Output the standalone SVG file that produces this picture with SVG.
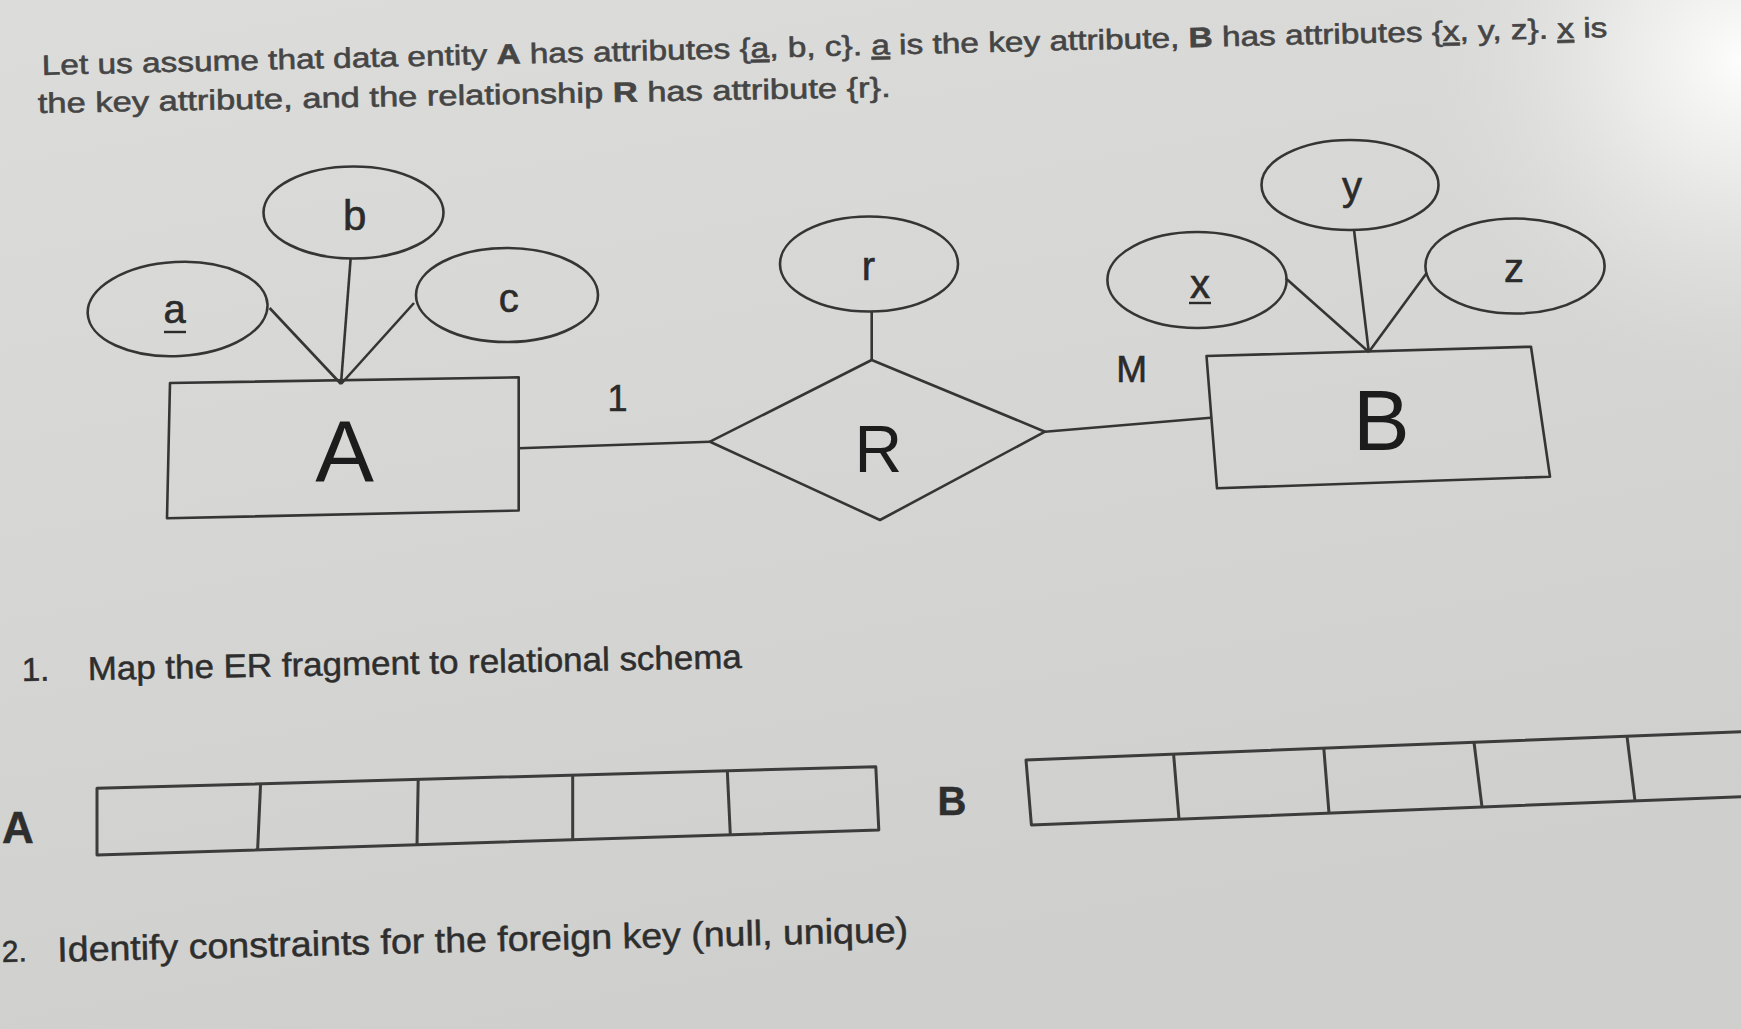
<svg xmlns="http://www.w3.org/2000/svg" width="1741" height="1029" viewBox="0 0 1741 1029">
  <defs>
    <linearGradient id="paper" x1="0" y1="0" x2="0.3" y2="1">
      <stop offset="0" stop-color="#dcdcda"/>
      <stop offset="0.5" stop-color="#d6d6d4"/>
      <stop offset="1" stop-color="#cfcfcd"/>
    </linearGradient>
    <radialGradient id="glow" cx="1741" cy="60" r="320" gradientUnits="userSpaceOnUse">
      <stop offset="0" stop-color="#ffffff" stop-opacity="0.95"/>
      <stop offset="0.35" stop-color="#f4f4f3" stop-opacity="0.7"/>
      <stop offset="1" stop-color="#e0e0de" stop-opacity="0"/>
    </radialGradient>
    <style>
      .ln { stroke:#353535; stroke-width:2.6; fill:none; stroke-linejoin:round; }
      .tb { stroke:#3c3c3c; stroke-width:3; fill:none; stroke-linejoin:round; }
      .lbl { font-family:"Liberation Sans", Arial, sans-serif; fill:#2b2b2b; stroke:#2b2b2b; stroke-width:0.6; text-anchor:middle; }
      .big { font-family:"Liberation Sans", Arial, sans-serif; fill:#1c1c1c; text-anchor:middle; }
      .hdr { font-family:"Liberation Sans", Arial, sans-serif; fill:#454545; stroke:#454545; stroke-width:0.6; font-size:28px; }
      .q { font-family:"Liberation Sans", Arial, sans-serif; fill:#2e2e2e; stroke:#2e2e2e; stroke-width:0.5; }
      .ul { stroke:#2b2b2b; stroke-width:2.4; }
    </style>
  </defs>

  <rect width="1741" height="1029" fill="url(#paper)"/>
  <rect width="1741" height="1029" fill="url(#glow)"/>

  <!-- header text -->
  <g id="header">
    <text class="hdr" x="42" y="75" transform="rotate(-1.39 42 75)" textLength="1566" lengthAdjust="spacingAndGlyphs">Let us assume that data entity <tspan font-weight="bold">A</tspan> has attributes {<tspan text-decoration="underline">a</tspan>, b, c}. <tspan text-decoration="underline">a</tspan> is the key attribute, <tspan font-weight="bold">B</tspan> has attributes {<tspan text-decoration="underline">x</tspan>, y, z}. <tspan text-decoration="underline">x</tspan> is</text>
    <text class="hdr" x="38" y="113" transform="rotate(-1.09 38 113)" textLength="853" lengthAdjust="spacingAndGlyphs">the key attribute, and the relationship <tspan font-weight="bold">R</tspan> has attribute {r}.</text>
  </g>

  <!-- connectors -->
  <g id="connectors">
    <line class="ln" x1="269.6" y1="308" x2="341" y2="384"/>
    <line class="ln" x1="350.6" y1="259" x2="341" y2="384"/>
    <line class="ln" x1="414" y1="303" x2="341" y2="384"/>
    <line class="ln" x1="871.7" y1="311.7" x2="871.7" y2="360"/>
    <line class="ln" x1="518.7" y1="448.3" x2="710" y2="441.7"/>
    <line class="ln" x1="1045" y1="431.7" x2="1210.7" y2="417.7"/>
    <line class="ln" x1="1285.7" y1="278.3" x2="1368.8" y2="352"/>
    <line class="ln" x1="1354" y1="230" x2="1368.8" y2="352"/>
    <line class="ln" x1="1426.5" y1="273.3" x2="1368.8" y2="352"/>
    <text class="lbl" x="617.5" y="411" font-size="36">1</text>
    <text class="lbl" x="1131.6" y="381.7" font-size="37">M</text>
  </g>

  <!-- entity A -->
  <g id="entity-A">
    <polygon class="ln" points="170,383 518.7,377.3 518.7,510.5 167,518.3"/>
    <text class="big" x="344.7" y="481.7" font-size="88">A</text>
  </g>
  <g id="attr-a">
    <ellipse class="ln" cx="177.6" cy="309" rx="90" ry="47" transform="rotate(-3 177.6 309)"/>
    <text class="lbl" x="174.7" y="323.3" font-size="40">a</text>
    <line class="ul" x1="164" y1="332" x2="186" y2="332"/>
  </g>
  <g id="attr-b">
    <ellipse class="ln" cx="353.5" cy="212.5" rx="90" ry="46"/>
    <text class="lbl" x="354.6" y="230" font-size="42">b</text>
  </g>
  <g id="attr-c">
    <ellipse class="ln" cx="507" cy="295" rx="91" ry="47"/>
    <text class="lbl" x="508.8" y="311.7" font-size="40">c</text>
  </g>

  <!-- relationship R -->
  <g id="rel-R">
    <polygon class="ln" points="871.7,360 1045,431.7 880,520 710,441.7"/>
    <text class="big" x="878.3" y="471.7" font-size="66">R</text>
  </g>
  <g id="attr-r">
    <ellipse class="ln" cx="869" cy="264" rx="89" ry="47.5"/>
    <text class="lbl" x="868.3" y="280" font-size="40">r</text>
  </g>

  <!-- entity B -->
  <g id="entity-B">
    <polygon class="ln" points="1206.5,356 1531,346.7 1550,476.7 1217,488.3"/>
    <text class="big" x="1381.4" y="450" font-size="85">B</text>
  </g>
  <g id="attr-x">
    <ellipse class="ln" cx="1197" cy="280" rx="89.6" ry="48"/>
    <text class="lbl" x="1200" y="298" font-size="40">x</text>
    <line class="ul" x1="1189" y1="303" x2="1211" y2="303"/>
  </g>
  <g id="attr-y">
    <ellipse class="ln" cx="1350" cy="185" rx="88.5" ry="45"/>
    <text class="lbl" x="1352" y="200" font-size="40">y</text>
  </g>
  <g id="attr-z">
    <ellipse class="ln" cx="1515" cy="266" rx="89.6" ry="47.5"/>
    <text class="lbl" x="1514" y="282" font-size="40">z</text>
  </g>

  <!-- question 1 -->
  <g id="question-1">
    <text class="q" x="22" y="681" font-size="33" transform="rotate(-1.05 22 681)">1.</text>
    <text class="q" x="88" y="680" font-size="33" transform="rotate(-1.05 88 680)" textLength="654" lengthAdjust="spacingAndGlyphs">Map the ER fragment to relational schema</text>
  </g>

  <!-- table A -->
  <g id="table-A">
    <text class="q" x="18" y="843" font-size="44" font-weight="bold" text-anchor="middle">A</text>
    <polygon class="tb" points="97,788.3 875.8,766.7 878.8,830 97,855"/>
    <line class="tb" x1="260.6" y1="783.8" x2="257.6" y2="849.9"/>
    <line class="tb" x1="418.2" y1="779.4" x2="417" y2="844.8"/>
    <line class="tb" x1="572.7" y1="775.1" x2="572.7" y2="839.8"/>
    <line class="tb" x1="727.3" y1="770.8" x2="730.3" y2="834.7"/>
  </g>

  <!-- table B -->
  <g id="table-B">
    <text class="q" x="952" y="815" font-size="40" font-weight="bold" text-anchor="middle">B</text>
    <polyline class="tb" points="1745,731.5 1026,760 1031.4,825 1745,796.5"/>
    <line class="tb" x1="1173.6" y1="754.2" x2="1179" y2="819.1"/>
    <line class="tb" x1="1323.8" y1="748.2" x2="1329" y2="813.1"/>
    <line class="tb" x1="1474" y1="742.3" x2="1482" y2="807"/>
    <line class="tb" x1="1627" y1="736.2" x2="1635" y2="800.9"/>
  </g>

  <!-- question 2 -->
  <g id="question-2">
    <text class="q" x="2" y="962" font-size="30" transform="rotate(-1.35 2 962)">2.</text>
    <text class="q" x="57.6" y="961.7" font-size="35" transform="rotate(-1.35 57.6 961.7)" textLength="851" lengthAdjust="spacingAndGlyphs">Identify constraints for the foreign key (null, unique)</text>
  </g>
</svg>
